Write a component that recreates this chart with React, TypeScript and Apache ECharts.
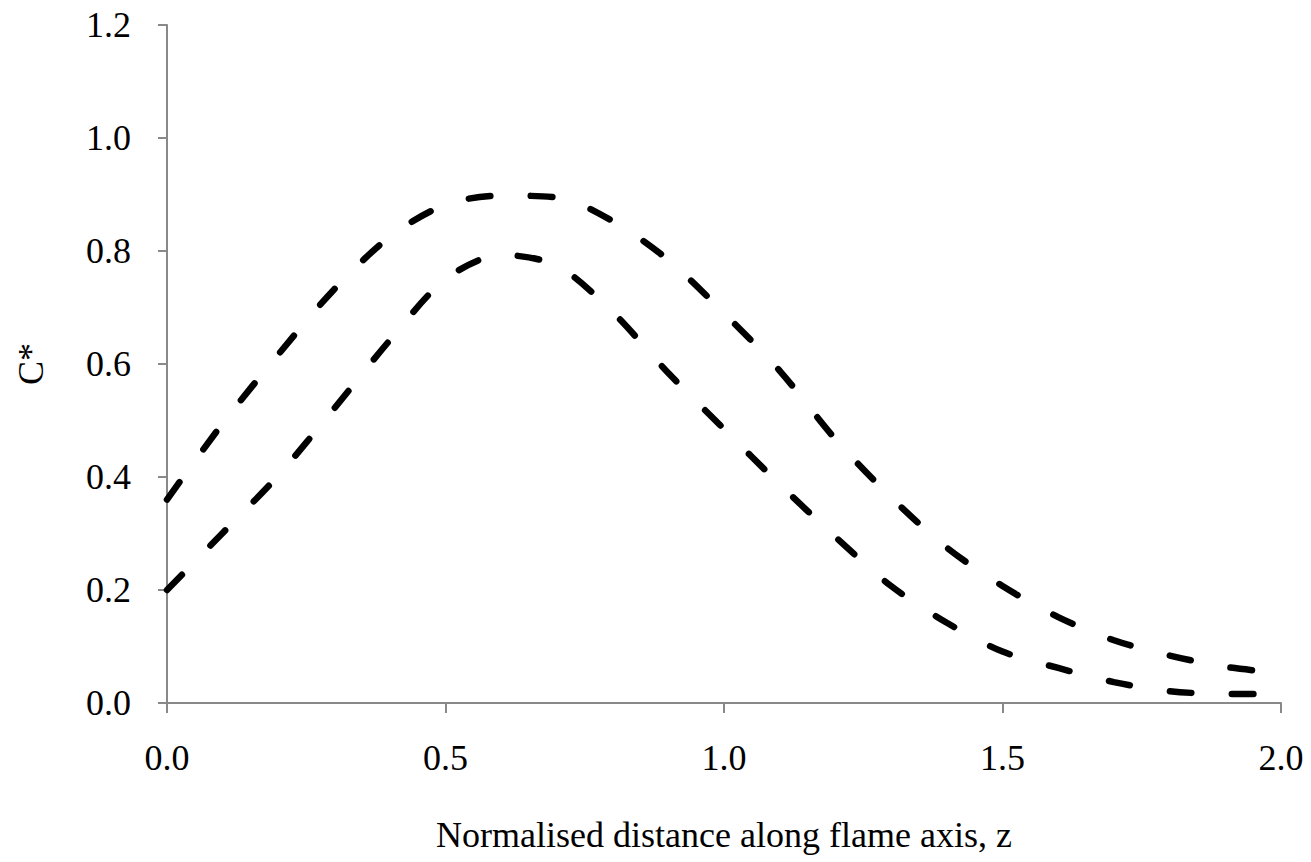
import React, { useEffect, useRef } from "react";
import * as echarts from "echarts";

const zValues = [0.0, 0.1, 0.2, 0.3, 0.4, 0.5, 0.6, 0.7, 0.8, 0.9, 1.0, 1.1, 1.2, 1.3, 1.4, 1.5, 1.6, 1.7, 1.8, 1.9, 2.0];
const upperValues = [0.36, 0.495, 0.617, 0.732, 0.825, 0.882, 0.898, 0.895, 0.853, 0.784, 0.69, 0.588, 0.467, 0.364, 0.275, 0.207, 0.152, 0.111, 0.084, 0.064, 0.053];
const lowerValues = [0.2, 0.301, 0.403, 0.521, 0.642, 0.75, 0.793, 0.774, 0.692, 0.584, 0.485, 0.387, 0.294, 0.207, 0.142, 0.091, 0.062, 0.037, 0.021, 0.016, 0.016];

const xTitle = "Normalised distance along flame axis, z";
const yTitle = "C*";

const FONT = "'Liberation Serif', 'Times New Roman', serif";
const AXIS_GRAY = "#898989";

export default function App() {
  const ref = useRef<HTMLDivElement>(null);

  useEffect(() => {
    if (!ref.current) return;
    const chart = echarts.init(ref.current, null, { renderer: "svg" });
    const toPairs = (ys: number[]) => zValues.map((z, i) => [z, ys[i]]);
    const lineStyle = {
      color: "#000000",
      width: 6.5,
      type: [21.5, 40.5] as number[],
      cap: "round" as const,
    };
    chart.setOption({
      animation: false,
      backgroundColor: "#ffffff",
      grid: { left: 167, right: 30, top: 25, bottom: 159, containLabel: false },
      xAxis: {
        type: "value",
        min: 0,
        max: 2,
        interval: 0.5,
        name: xTitle,
        nameLocation: "middle",
        nameGap: 114,
        nameTextStyle: { fontFamily: FONT, fontSize: 36, color: "#000" },
        axisLine: { show: true, lineStyle: { color: AXIS_GRAY, width: 2 } },
        axisTick: { show: true, inside: false, length: 10, lineStyle: { color: AXIS_GRAY, width: 2 } },
        axisLabel: {
          margin: 37,
          fontFamily: FONT,
          fontSize: 36,
          color: "#000",
          formatter: (v: number) => v.toFixed(1),
        },
        splitLine: { show: false },
      },
      yAxis: {
        type: "value",
        min: 0,
        max: 1.2,
        interval: 0.2,
        name: yTitle,
        nameLocation: "middle",
        nameGap: 118,
        nameTextStyle: { fontFamily: FONT, fontSize: 36, color: "#000" },
        axisLine: { show: true, lineStyle: { color: AXIS_GRAY, width: 2 } },
        axisTick: { show: true, inside: false, length: 9, lineStyle: { color: AXIS_GRAY, width: 2 } },
        axisLabel: {
          margin: 36,
          fontFamily: FONT,
          fontSize: 36,
          color: "#000",
          formatter: (v: number) => v.toFixed(1),
        },
        splitLine: { show: false },
      },
      series: [
        {
          name: "upper",
          type: "line",
          data: toPairs(upperValues),
          smooth: 0.3,
          showSymbol: false,
          symbol: "none",
          lineStyle,
        },
        {
          name: "lower",
          type: "line",
          data: toPairs(lowerValues),
          smooth: 0.3,
          showSymbol: false,
          symbol: "none",
          lineStyle,
        },
      ],
    });
    return () => chart.dispose();
  }, []);

  return (
    <div
      ref={ref}
      style={{ position: "fixed", left: 0, top: 0, width: 1311, height: 862, background: "#fff" }}
    />
  );
}
